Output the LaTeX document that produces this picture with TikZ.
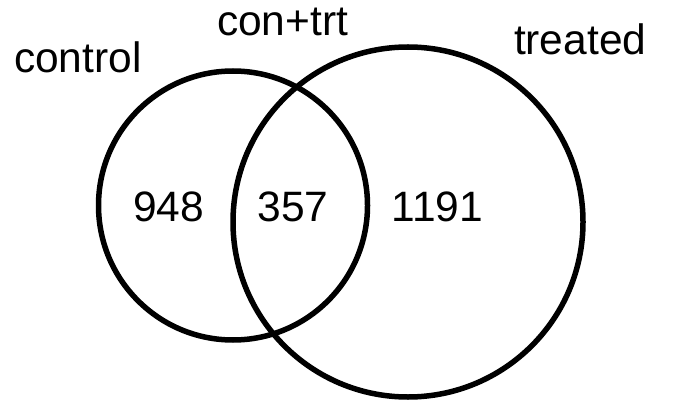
\documentclass[tikz,border=0pt]{standalone}
\usepackage{fontspec}
\setmainfont{Liberation Sans}
\begin{document}
\begin{tikzpicture}[x=1pt,y=-1pt,
  setcircle/.style={circle,draw=black,line width=5.5pt,inner sep=0pt,outer sep=0pt},
  lbl/.style={inner sep=0pt,outer sep=0pt,font=\fontsize{42.5}{50}\selectfont}]
\useasboundingbox (0,0) rectangle (676,403);
\node[setcircle,minimum size=269pt] (ctrl) at (233,205.5) {};
\node[setcircle,minimum size=350pt] (trt) at (408,222) {};
\node[lbl,anchor=base west] (lctrl) at (14,73) {control};
\node[lbl,anchor=base west] (lboth) at (217,36) {con+trt};
\node[lbl,anchor=base west] (ltrt) at (514,55) {treated};
\node[lbl,anchor=base] (n1) at (168.5,222) {948};
\node[lbl,anchor=base] (n2) at (293,222) {357};
\node[lbl,anchor=base] (n3) at (437.5,222) {1191};
\end{tikzpicture}
\end{document}
